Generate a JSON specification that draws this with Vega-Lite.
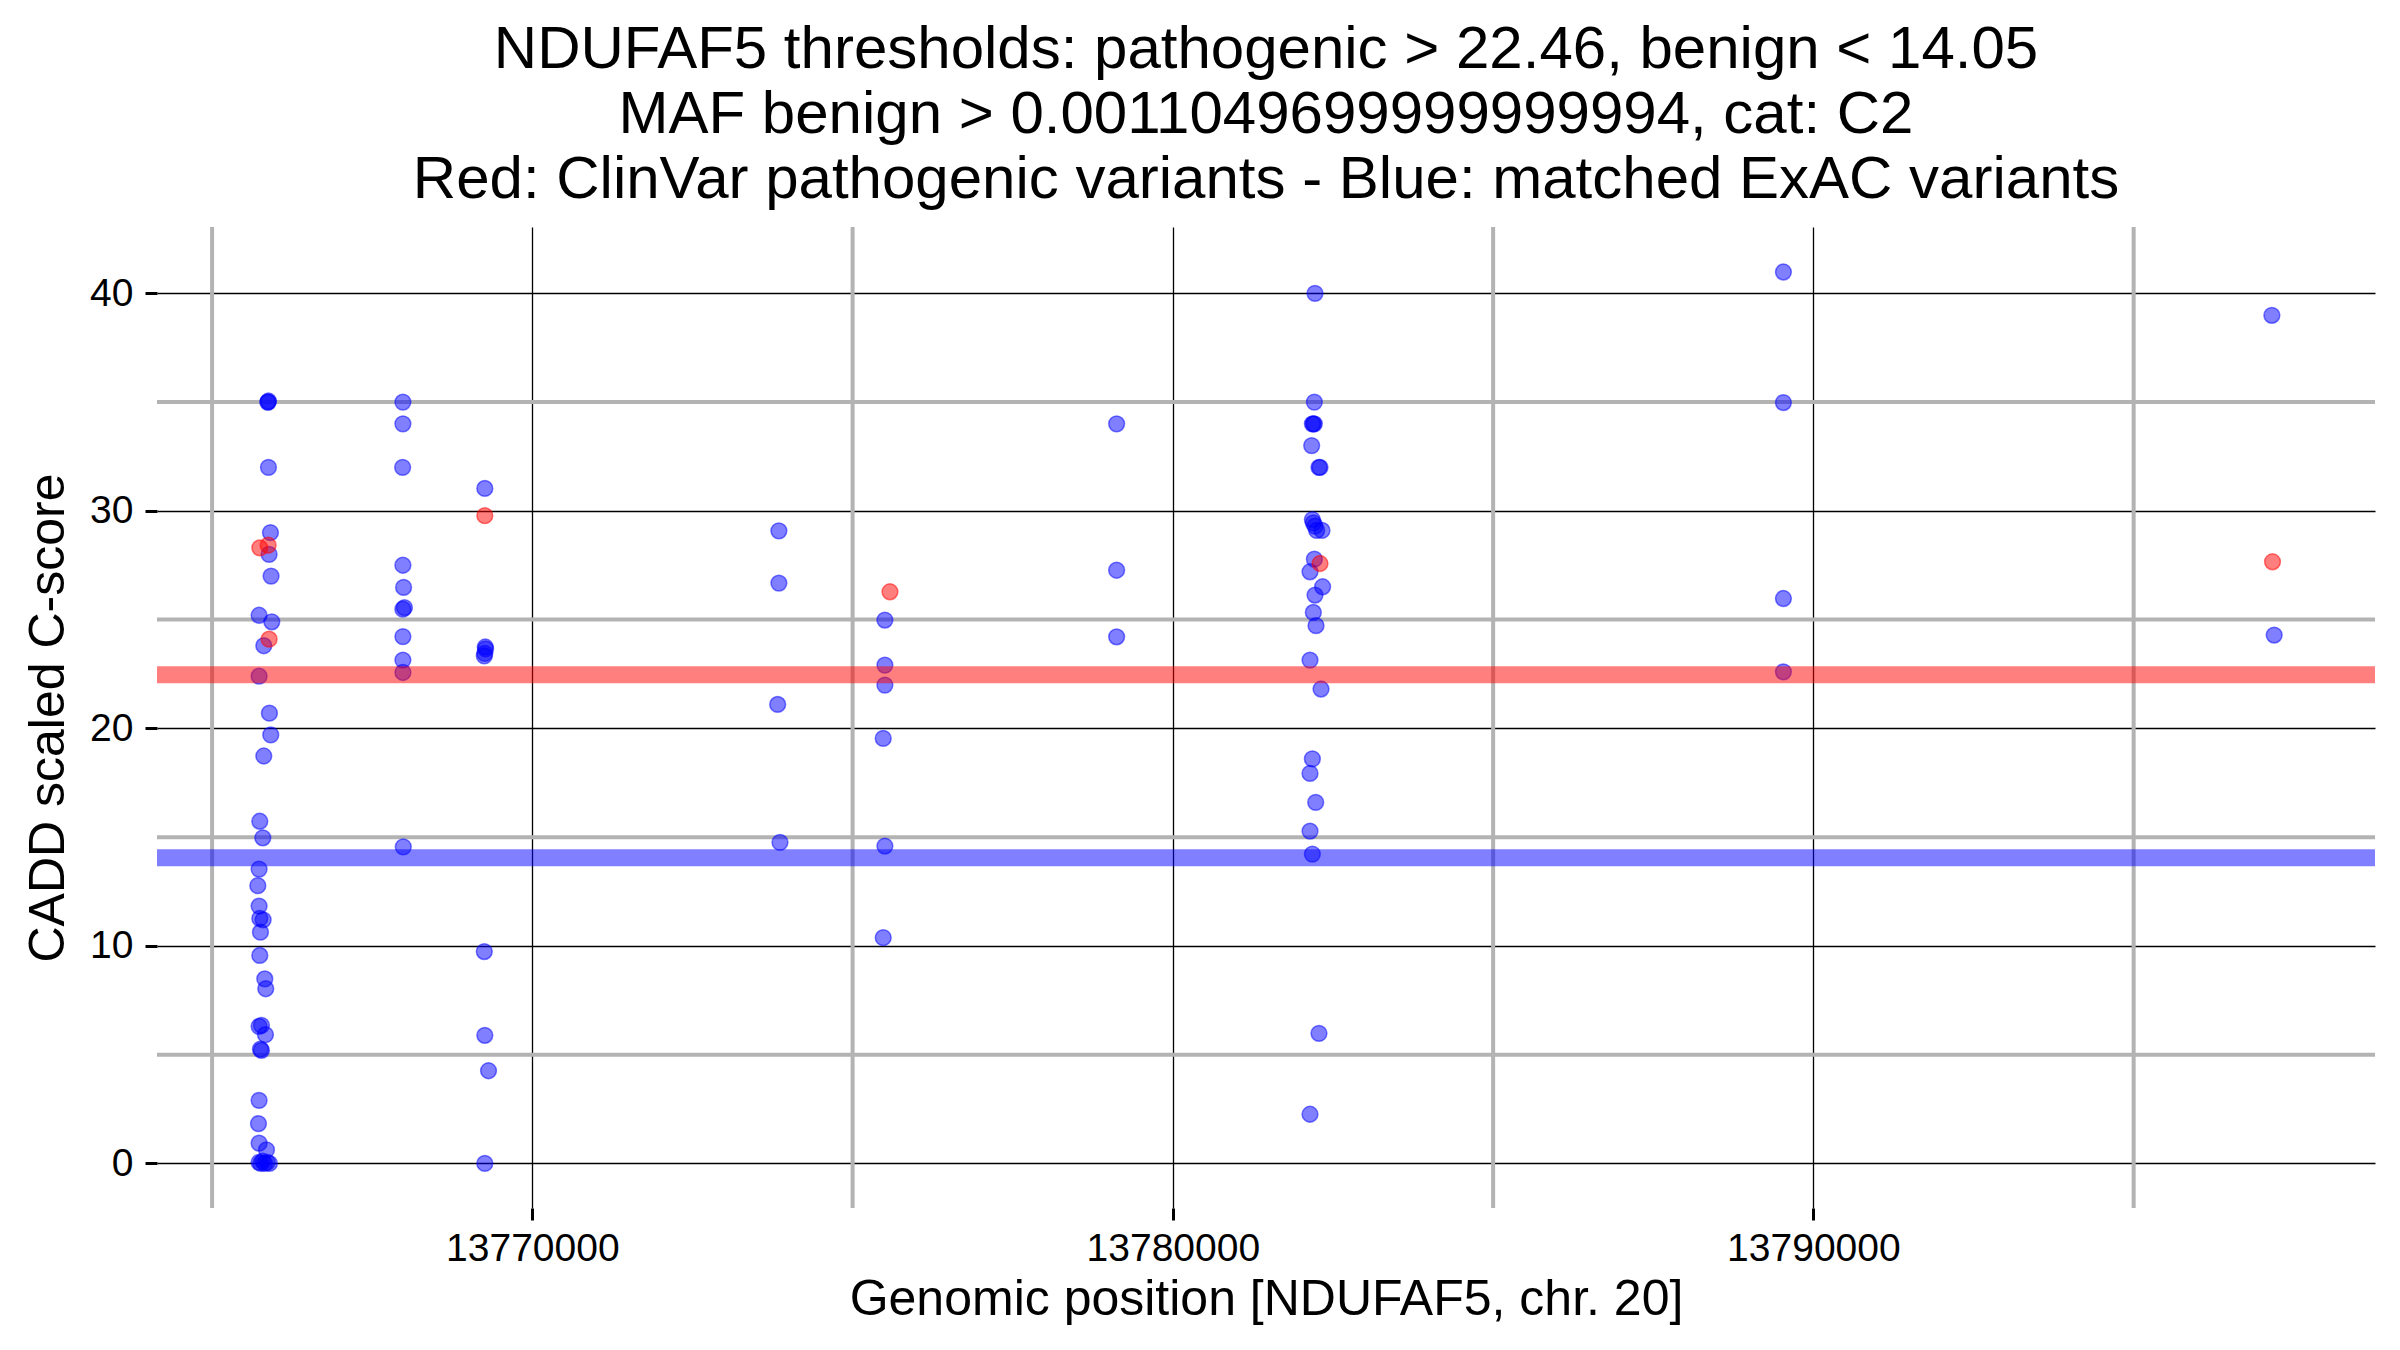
{
  "$schema": "https://vega.github.io/schema/vega-lite/v6.json",
  "width": 2218,
  "height": 981,
  "autosize": {"type": "none"},
  "padding": {"left": 157, "top": 227, "right": 25, "bottom": 142},
  "background": "white",
  "config": {
    "view": {"stroke": null},
    "font": "Liberation Sans",
    "axis": {
      "domain": false, "grid": true, "gridColor": "black", "gridWidth": 1.3, "gridOpacity": 1,
      "ticks": true, "tickColor": "black", "tickWidth": 3, "tickSize": 12,
      "labelFont": "Liberation Sans", "labelFontSize": 39, "labelColor": "black",
      "titleFont": "Liberation Sans", "titleFontSize": 50, "titleFontWeight": "normal", "titleColor": "black"
    },
    "axisX": {"labelPadding": 9, "titlePadding": 6},
    "axisY": {"labelPadding": 12, "titlePadding": 16}
  },
  "title": {
    "text": ["NDUFAF5 thresholds: pathogenic > 22.46, benign < 14.05", "MAF benign > 0.0011049699999999994, cat: C2", "Red: ClinVar pathogenic variants - Blue: matched ExAC variants"],
    "fontSize": 60, "fontWeight": "normal", "font": "Liberation Sans", "color": "black",
    "lineHeight": 65, "anchor": "middle", "offset": 14
  },
  "datasets": {
    "points": [
      {"pos": 13765870, "score": 35.0, "set": "ExAC"},
      {"pos": 13765875, "score": 35.0, "set": "ExAC"},
      {"pos": 13765880, "score": 35.05, "set": "ExAC"},
      {"pos": 13765880, "score": 32.0, "set": "ExAC"},
      {"pos": 13765911, "score": 29.0, "set": "ExAC"},
      {"pos": 13765890, "score": 28.0, "set": "ExAC"},
      {"pos": 13765921, "score": 27.0, "set": "ExAC"},
      {"pos": 13765734, "score": 25.2, "set": "ExAC"},
      {"pos": 13765932, "score": 24.9, "set": "ExAC"},
      {"pos": 13765807, "score": 23.8, "set": "ExAC"},
      {"pos": 13765734, "score": 22.4, "set": "ExAC"},
      {"pos": 13765895, "score": 20.7, "set": "ExAC"},
      {"pos": 13765916, "score": 19.7, "set": "ExAC"},
      {"pos": 13765807, "score": 18.73, "set": "ExAC"},
      {"pos": 13765745, "score": 15.73, "set": "ExAC"},
      {"pos": 13765792, "score": 14.97, "set": "ExAC"},
      {"pos": 13765734, "score": 13.53, "set": "ExAC"},
      {"pos": 13765714, "score": 12.77, "set": "ExAC"},
      {"pos": 13765734, "score": 11.83, "set": "ExAC"},
      {"pos": 13765745, "score": 11.26, "set": "ExAC"},
      {"pos": 13765797, "score": 11.2, "set": "ExAC"},
      {"pos": 13765755, "score": 10.63, "set": "ExAC"},
      {"pos": 13765745, "score": 9.56, "set": "ExAC"},
      {"pos": 13765823, "score": 8.48, "set": "ExAC"},
      {"pos": 13765838, "score": 8.03, "set": "ExAC"},
      {"pos": 13765734, "score": 6.3, "set": "ExAC"},
      {"pos": 13765771, "score": 6.35, "set": "ExAC"},
      {"pos": 13765833, "score": 5.92, "set": "ExAC"},
      {"pos": 13765771, "score": 5.2, "set": "ExAC"},
      {"pos": 13765755, "score": 5.25, "set": "ExAC"},
      {"pos": 13765734, "score": 2.9, "set": "ExAC"},
      {"pos": 13765724, "score": 1.83, "set": "ExAC"},
      {"pos": 13765734, "score": 0.93, "set": "ExAC"},
      {"pos": 13765849, "score": 0.62, "set": "ExAC"},
      {"pos": 13765734, "score": 0.05, "set": "ExAC"},
      {"pos": 13765760, "score": 0.0, "set": "ExAC"},
      {"pos": 13765790, "score": 0.1, "set": "ExAC"},
      {"pos": 13765820, "score": 0.0, "set": "ExAC"},
      {"pos": 13765860, "score": 0.05, "set": "ExAC"},
      {"pos": 13765895, "score": 0.0, "set": "ExAC"},
      {"pos": 13767979, "score": 35.0, "set": "ExAC"},
      {"pos": 13767979, "score": 34.0, "set": "ExAC"},
      {"pos": 13767975, "score": 32.0, "set": "ExAC"},
      {"pos": 13767979, "score": 27.5, "set": "ExAC"},
      {"pos": 13767990, "score": 26.48, "set": "ExAC"},
      {"pos": 13767979, "score": 25.48, "set": "ExAC"},
      {"pos": 13768003, "score": 25.55, "set": "ExAC"},
      {"pos": 13767979, "score": 24.22, "set": "ExAC"},
      {"pos": 13767979, "score": 23.14, "set": "ExAC"},
      {"pos": 13767979, "score": 22.57, "set": "ExAC"},
      {"pos": 13767985, "score": 14.55, "set": "ExAC"},
      {"pos": 13769258, "score": 31.03, "set": "ExAC"},
      {"pos": 13769265, "score": 23.74, "set": "ExAC"},
      {"pos": 13769270, "score": 23.65, "set": "ExAC"},
      {"pos": 13769258, "score": 23.45, "set": "ExAC"},
      {"pos": 13769250, "score": 23.33, "set": "ExAC"},
      {"pos": 13769250, "score": 9.74, "set": "ExAC"},
      {"pos": 13769258, "score": 5.89, "set": "ExAC"},
      {"pos": 13769316, "score": 4.26, "set": "ExAC"},
      {"pos": 13769258, "score": 0.0, "set": "ExAC"},
      {"pos": 13773849, "score": 29.08, "set": "ExAC"},
      {"pos": 13773849, "score": 26.68, "set": "ExAC"},
      {"pos": 13773830, "score": 21.1, "set": "ExAC"},
      {"pos": 13773866, "score": 14.76, "set": "ExAC"},
      {"pos": 13775504, "score": 24.98, "set": "ExAC"},
      {"pos": 13775504, "score": 22.91, "set": "ExAC"},
      {"pos": 13775504, "score": 21.99, "set": "ExAC"},
      {"pos": 13775478, "score": 19.54, "set": "ExAC"},
      {"pos": 13775504, "score": 14.59, "set": "ExAC"},
      {"pos": 13775478, "score": 10.38, "set": "ExAC"},
      {"pos": 13779122, "score": 34.0, "set": "ExAC"},
      {"pos": 13779122, "score": 27.27, "set": "ExAC"},
      {"pos": 13779122, "score": 24.21, "set": "ExAC"},
      {"pos": 13782219, "score": 40.0, "set": "ExAC"},
      {"pos": 13782209, "score": 35.0, "set": "ExAC"},
      {"pos": 13782178, "score": 34.0, "set": "ExAC"},
      {"pos": 13782193, "score": 34.0, "set": "ExAC"},
      {"pos": 13782209, "score": 34.0, "set": "ExAC"},
      {"pos": 13782167, "score": 33.0, "set": "ExAC"},
      {"pos": 13782281, "score": 32.0, "set": "ExAC"},
      {"pos": 13782297, "score": 32.0, "set": "ExAC"},
      {"pos": 13782178, "score": 29.6, "set": "ExAC"},
      {"pos": 13782193, "score": 29.45, "set": "ExAC"},
      {"pos": 13782219, "score": 29.3, "set": "ExAC"},
      {"pos": 13782245, "score": 29.1, "set": "ExAC"},
      {"pos": 13782328, "score": 29.1, "set": "ExAC"},
      {"pos": 13782209, "score": 27.78, "set": "ExAC"},
      {"pos": 13782141, "score": 27.2, "set": "ExAC"},
      {"pos": 13782338, "score": 26.51, "set": "ExAC"},
      {"pos": 13782219, "score": 26.13, "set": "ExAC"},
      {"pos": 13782193, "score": 25.33, "set": "ExAC"},
      {"pos": 13782235, "score": 24.72, "set": "ExAC"},
      {"pos": 13782141, "score": 23.14, "set": "ExAC"},
      {"pos": 13782313, "score": 21.81, "set": "ExAC"},
      {"pos": 13782178, "score": 18.6, "set": "ExAC"},
      {"pos": 13782141, "score": 17.93, "set": "ExAC"},
      {"pos": 13782230, "score": 16.6, "set": "ExAC"},
      {"pos": 13782141, "score": 15.28, "set": "ExAC"},
      {"pos": 13782178, "score": 14.22, "set": "ExAC"},
      {"pos": 13782281, "score": 5.98, "set": "ExAC"},
      {"pos": 13782141, "score": 2.26, "set": "ExAC"},
      {"pos": 13789532, "score": 40.98, "set": "ExAC"},
      {"pos": 13789532, "score": 34.98, "set": "ExAC"},
      {"pos": 13789532, "score": 25.97, "set": "ExAC"},
      {"pos": 13789532, "score": 22.6, "set": "ExAC"},
      {"pos": 13797158, "score": 38.99, "set": "ExAC"},
      {"pos": 13797194, "score": 24.29, "set": "ExAC"},
      {"pos": 13765745, "score": 28.3, "set": "ClinVar"},
      {"pos": 13765875, "score": 28.42, "set": "ClinVar"},
      {"pos": 13765890, "score": 24.1, "set": "ClinVar"},
      {"pos": 13769258, "score": 29.78, "set": "ClinVar"},
      {"pos": 13775583, "score": 26.28, "set": "ClinVar"},
      {"pos": 13782297, "score": 27.58, "set": "ClinVar"},
      {"pos": 13797168, "score": 27.66, "set": "ClinVar"}
    ],
    "thresholds": [
      {"kind": "pathogenic", "score": 22.46},
      {"kind": "benign", "score": 14.05}
    ],
    "minorY": [{"score": 5}, {"score": 15}, {"score": 25}, {"score": 35}],
    "minorX": [{"pos": 13765000}, {"pos": 13775000}, {"pos": 13785000}, {"pos": 13795000}]
  },
  "layer": [
    {
      "data": {"name": "minorX"},
      "mark": {"type": "rule", "color": "#b3b3b3", "strokeWidth": 4},
      "encoding": {
        "x": {
          "field": "pos", "type": "quantitative",
          "scale": {"domain": [13764140, 13798768], "nice": false, "zero": false},
          "axis": {"title": "Genomic position [NDUFAF5, chr. 20]", "values": [13770000, 13780000, 13790000], "format": "d"}
        }
      }
    },
    {
      "data": {"name": "minorY"},
      "mark": {"type": "rule", "color": "#b3b3b3", "strokeWidth": 4},
      "encoding": {
        "y": {
          "field": "score", "type": "quantitative",
          "scale": {"domain": [-2.05, 43.05], "nice": false, "zero": false},
          "axis": {"title": "CADD scaled C-score", "values": [0, 10, 20, 30, 40]}
        }
      }
    },
    {
      "data": {"name": "points"},
      "mark": {"type": "point", "shape": "circle", "filled": true, "size": 250, "fillOpacity": 0.5, "strokeOpacity": 0.5, "strokeWidth": 1.5},
      "encoding": {
        "x": {
          "field": "pos", "type": "quantitative",
          "axis": {"title": "Genomic position [NDUFAF5, chr. 20]", "values": [13770000, 13780000, 13790000], "format": "d"}
        },
        "y": {
          "field": "score", "type": "quantitative",
          "axis": {"title": "CADD scaled C-score", "values": [0, 10, 20, 30, 40]}
        },
        "fill": {"field": "set", "type": "nominal", "scale": {"domain": ["ClinVar", "ExAC"], "range": ["#ff0000", "#0000ff"]}, "legend": null},
        "stroke": {"field": "set", "type": "nominal", "scale": {"domain": ["ClinVar", "ExAC"], "range": ["#ff0000", "#0000ff"]}, "legend": null}
      }
    },
    {
      "data": {"name": "thresholds"},
      "transform": [{"filter": "datum.kind === 'pathogenic'"}],
      "mark": {"type": "rule", "color": "#ff0000", "opacity": 0.5, "strokeWidth": 17},
      "encoding": {"y": {"field": "score", "type": "quantitative", "axis": {"title": "CADD scaled C-score", "values": [0, 10, 20, 30, 40]}}}
    },
    {
      "data": {"name": "thresholds"},
      "transform": [{"filter": "datum.kind === 'benign'"}],
      "mark": {"type": "rule", "color": "#0000ff", "opacity": 0.5, "strokeWidth": 17},
      "encoding": {"y": {"field": "score", "type": "quantitative", "axis": {"title": "CADD scaled C-score", "values": [0, 10, 20, 30, 40]}}}
    }
  ]
}
